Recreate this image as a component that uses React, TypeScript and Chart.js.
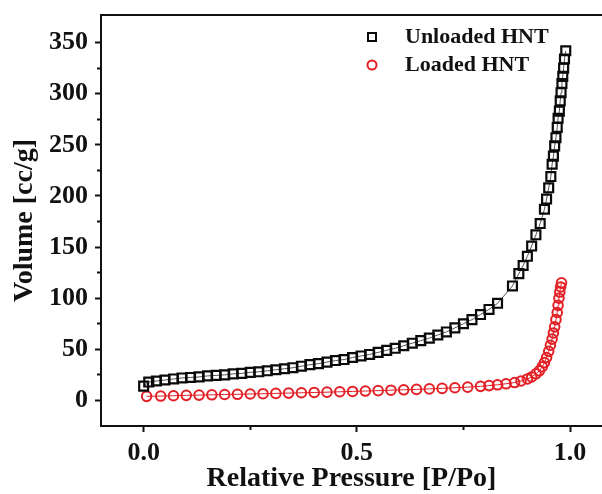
import { useEffect, useRef } from 'react';
import { Chart, registerables } from 'chart.js';

Chart.register(...registerables);

// ---- data ----
const SERIES_NAMES = ['Unloaded HNT', 'Loaded HNT'];

const UNLOADED_X = [
  0.0, 0.012, 0.03, 0.05, 0.07, 0.09, 0.11, 0.13, 0.15, 0.17, 0.19, 0.21, 0.23, 0.25, 0.27, 0.29,
  0.31, 0.33, 0.35, 0.37, 0.39, 0.41, 0.43, 0.45, 0.47, 0.49, 0.51, 0.53, 0.55, 0.57, 0.59, 0.61,
  0.63, 0.65, 0.67, 0.69, 0.71, 0.73, 0.75, 0.77, 0.79, 0.81, 0.83, 0.865, 0.88, 0.89, 0.9, 0.91,
  0.92, 0.93, 0.94, 0.945, 0.95, 0.955, 0.958, 0.961, 0.964, 0.967, 0.97, 0.972, 0.975, 0.977,
  0.979, 0.981, 0.983, 0.985, 0.987, 0.99,
];
const UNLOADED_Y = [
  14, 18, 19, 20, 21, 22, 22.5, 23, 24, 24.5, 25, 26, 26.5, 27.5, 28, 29,
  30, 31, 32, 33.5, 35, 36, 37.5, 39, 40, 42, 43.5, 45, 47, 49, 51, 53.5,
  56, 58.5, 61, 64, 67, 71, 75, 79, 84, 89, 95, 112, 124, 132, 141, 151,
  162, 173, 187, 197, 208, 219, 231, 239, 249, 257, 267, 276, 283, 293,
  301, 310, 317, 325, 334, 342,
];

const LOADED_X = [
  0.007, 0.04, 0.07, 0.1, 0.13, 0.16, 0.19, 0.22, 0.25, 0.28, 0.31, 0.34, 0.37, 0.4, 0.43, 0.46,
  0.49, 0.52, 0.55, 0.58, 0.61, 0.64, 0.67, 0.7, 0.73, 0.76, 0.79, 0.81, 0.83, 0.85, 0.87, 0.885,
  0.9, 0.91, 0.92, 0.928, 0.935, 0.94, 0.945, 0.95, 0.954, 0.958, 0.961, 0.964, 0.967, 0.97,
  0.972, 0.974, 0.976, 0.978, 0.98,
];
const LOADED_Y = [
  4, 4.3, 4.6, 5, 5.2, 5.5, 5.8, 6, 6.3, 6.6, 6.9, 7.2, 7.5, 7.8, 8.1, 8.5,
  8.8, 9.2, 9.6, 10, 10.4, 10.8, 11.3, 11.8, 12.4, 13, 13.8, 14.5, 15.3, 16.3, 17.5, 19,
  21, 23, 26, 29, 33, 37, 42, 48, 54, 60, 66, 72, 79, 86,
  93, 100, 106, 111, 115,
];

const X_TICKS = [0, 0.5, 1.0];
const X_MINOR_TICKS = [0.25, 0.75];
const Y_TICKS = [0, 50, 100, 150, 200, 250, 300, 350];
const Y_MINOR_TICKS = [25, 75, 125, 175, 225, 275, 325];

const X_MIN = -0.1;
const X_MAX = 1.075;
const Y_MIN = -25;
const Y_MAX = 377;

const X_TITLE = 'Relative Pressure [P/Po]';
const Y_TITLE = 'Volume [cc/g]';

const FONT_FAMILY = "'Liberation Serif', 'Times New Roman', serif";
const RED = 'rgb(226, 32, 38)';

const toPoints = (xs: number[], ys: number[]) => xs.map((x, i) => ({ x, y: ys[i] }));

const zeroPadding = (s: any) => {
  s.paddingLeft = 0;
  s.paddingRight = 0;
  s.paddingTop = 0;
  s.paddingBottom = 0;
};

const legendPlugin = {
  id: 'insideLegend',
  afterDraw(chart: any) {
    const { ctx, chartArea } = chart;
    const mx = chartArea.left + 271;
    const y0 = chartArea.top + 22;
    const rowH = 28;
    chart.data.datasets.forEach((ds: any, i: number) => {
      const y = y0 + i * rowH;
      ctx.save();
      ctx.lineWidth = 2;
      ctx.strokeStyle = ds.pointBorderColor;
      if (ds.pointStyle === 'rect') {
        ctx.strokeRect(mx - 4, y - 4, 8, 8);
      } else {
        ctx.beginPath();
        ctx.arc(mx, y, 4.5, 0, Math.PI * 2);
        ctx.stroke();
      }
      ctx.font = `bold 22px ${FONT_FAMILY}`;
      ctx.fillStyle = '#111';
      ctx.textBaseline = 'middle';
      ctx.textAlign = 'left';
      ctx.fillText(ds.label, mx + 33, y);
      ctx.restore();
    });
  },
};

export default function App() {
  const canvasRef = useRef<HTMLCanvasElement | null>(null);

  useEffect(() => {
    document.body.style.margin = '0';
    const canvas = canvasRef.current;
    if (!canvas) return;

    const tickFont = { family: FONT_FAMILY, size: 26, weight: 'bold' as const, lineHeight: 1 };
    const titleFont = { family: FONT_FAMILY, size: 28, weight: 'bold' as const, lineHeight: 1 };

    const chart = new Chart(canvas, {
      type: 'line',
      data: {
        datasets: [
          {
            label: SERIES_NAMES[0],
            data: toPoints(UNLOADED_X, UNLOADED_Y),
            xAxisID: 'x',
            yAxisID: 'y',
            borderColor: '#555',
            borderWidth: 1,
            pointStyle: 'rect',
            pointRadius: 6.3,
            pointBorderWidth: 2.2,
            pointBorderColor: '#0a0a0a',
            pointBackgroundColor: 'rgba(0,0,0,0)',
            tension: 0,
          },
          {
            label: SERIES_NAMES[1],
            data: toPoints(LOADED_X, LOADED_Y),
            xAxisID: 'x',
            yAxisID: 'y',
            borderColor: RED,
            borderWidth: 1,
            pointStyle: 'circle',
            pointRadius: 4.8,
            pointBorderWidth: 2,
            pointBorderColor: RED,
            pointBackgroundColor: 'rgba(0,0,0,0)',
            tension: 0,
          },
        ],
      },
      options: {
        animation: false,
        responsive: true,
        maintainAspectRatio: false,
        devicePixelRatio: 1,
        layout: { autoPadding: false, padding: { left: 10, right: 0, top: 0, bottom: 0 } },
        plugins: {
          legend: { display: false },
          tooltip: { enabled: false },
        },
        scales: {
          x: {
            type: 'linear',
            position: 'bottom',
            min: X_MIN,
            max: X_MAX,
            afterBuildTicks: (s: any) => {
              s.ticks = X_TICKS.map((v) => ({ value: v }));
            },
            afterFit: (s: any) => {
              s.height = 68;
              zeroPadding(s);
            },
            ticks: {
              autoSkip: false,
              maxRotation: 0,
              padding: 8,
              color: '#111',
              font: tickFont,
              callback: (v: any) => Number(v).toFixed(1),
            },
            grid: {
              display: true,
              drawOnChartArea: false,
              drawTicks: true,
              tickLength: 6,
              tickWidth: 2,
              tickColor: '#111',
            },
            border: { display: true, width: 2, color: '#111' },
            title: {
              display: true,
              text: X_TITLE,
              color: '#111',
              font: titleFont,
              padding: { top: 0, bottom: 1 },
            },
          },
          xTop: {
            type: 'linear',
            axis: 'x',
            position: 'top',
            min: X_MIN,
            max: X_MAX,
            afterFit: (s: any) => {
              s.height = 15;
              zeroPadding(s);
            },
            ticks: { display: false },
            grid: { display: false, drawTicks: false },
            border: { display: true, width: 2, color: '#111' },
          },
          xMinor: {
            type: 'linear',
            axis: 'x',
            position: { y: Y_MIN },
            min: X_MIN,
            max: X_MAX,
            afterBuildTicks: (s: any) => {
              s.ticks = X_MINOR_TICKS.map((v) => ({ value: v }));
            },
            afterFit: zeroPadding,
            ticks: { display: false },
            grid: {
              display: true,
              drawOnChartArea: false,
              drawTicks: true,
              tickLength: 4,
              tickWidth: 2,
              tickColor: '#111',
            },
            border: { display: false },
          },
          y: {
            type: 'linear',
            position: 'left',
            min: Y_MIN,
            max: Y_MAX,
            afterBuildTicks: (s: any) => {
              s.ticks = Y_TICKS.map((v) => ({ value: v }));
            },
            afterFit: (s: any) => {
              s.width = 91;
              zeroPadding(s);
            },
            ticks: {
              autoSkip: false,
              padding: 7,
              color: '#111',
              font: tickFont,
              callback: (v: any) => String(v),
            },
            grid: {
              display: true,
              drawOnChartArea: false,
              drawTicks: true,
              tickLength: 6,
              tickWidth: 2,
              tickColor: '#111',
            },
            border: { display: true, width: 2, color: '#111' },
            title: {
              display: true,
              text: Y_TITLE,
              color: '#111',
              font: titleFont,
              padding: { top: 1, bottom: 0 },
            },
          },
          yMinor: {
            type: 'linear',
            axis: 'y',
            position: { x: X_MIN },
            min: Y_MIN,
            max: Y_MAX,
            afterBuildTicks: (s: any) => {
              s.ticks = Y_MINOR_TICKS.map((v) => ({ value: v }));
            },
            afterFit: zeroPadding,
            ticks: { display: false },
            grid: {
              display: true,
              drawOnChartArea: false,
              drawTicks: true,
              tickLength: 4,
              tickWidth: 2,
              tickColor: '#111',
            },
            border: { display: false },
          },
        },
      } as any,
      plugins: [legendPlugin],
    });

    return () => {
      chart.destroy();
    };
  }, []);

  return (
    <div style={{ position: 'relative', width: '602px', height: '494px', background: '#fff' }}>
      <canvas ref={canvasRef} />
    </div>
  );
}
